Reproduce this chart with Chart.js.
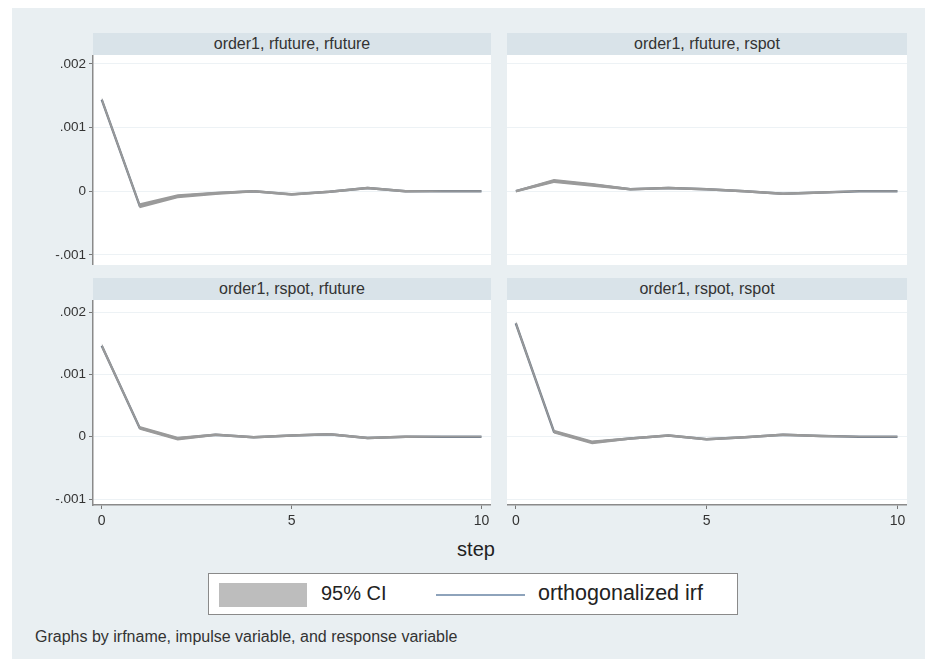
<!DOCTYPE html>
<html>
<head>
<meta charset="utf-8">
<script src="https://cdn.jsdelivr.net/npm/chart.js@4/dist/chart.umd.min.js"></script>
<style>
html,body{margin:0;padding:0;background:#fff;width:925px;height:659px;overflow:hidden;font-family:"Liberation Sans",Arial,Helvetica,sans-serif;}
#bg{position:absolute;left:12px;top:8px;width:913px;height:651px;background:#e9eff2;}
.hdr{position:absolute;background:#d9e3e9;color:#333;font-size:16px;text-align:center;height:22px;line-height:22px;white-space:nowrap;}
canvas{position:absolute;}
#steplbl{position:absolute;left:376px;width:200px;top:538px;text-align:center;font-size:20px;color:#222;}
#legend{position:absolute;left:208px;top:573px;width:528px;height:40px;background:#fff;border:1.5px solid #8a8a8a;}
#sw{position:absolute;left:10px;top:9px;width:88px;height:24px;background:#bdbdbd;}
#ci{position:absolute;left:112px;top:8px;font-size:20px;color:#222;}
#ln{position:absolute;left:227px;top:20px;width:89px;height:2px;background:#8ea3bb;}
#oi{position:absolute;left:329px;top:7px;font-size:21.5px;color:#222;}
#note{position:absolute;left:35px;top:628px;font-size:16px;color:#333;white-space:nowrap;}
</style>
</head>
<body>
<div id="bg"></div>
<div class="hdr" id="h1" style="left:93px;top:33px;width:398px;"></div>
<div class="hdr" id="h2" style="left:507px;top:33px;width:400px;"></div>
<div class="hdr" id="h3" style="left:93px;top:278px;width:398px;"></div>
<div class="hdr" id="h4" style="left:507px;top:278px;width:400px;"></div>
<canvas id="c1" width="461" height="210" style="left:30px;top:55px;"></canvas>
<canvas id="c2" width="400" height="210" style="left:507px;top:55px;"></canvas>
<canvas id="c3" width="461" height="235" style="left:30px;top:300px;"></canvas>
<canvas id="c4" width="400" height="235" style="left:507px;top:300px;"></canvas>
<div id="steplbl">step</div>
<div id="legend"><div id="sw"></div><div id="ci"></div><div id="ln"></div><div id="oi"></div></div>
<div id="note"></div>
<script>
// ---------- data ----------
const panelTitles = ["order1, rfuture, rfuture", "order1, rfuture, rspot", "order1, rspot, rfuture", "order1, rspot, rspot"];
const steps = [0, 1, 2, 3, 4, 5, 6, 7, 8, 9, 10];

const irfFutFut  = [0.00144, -0.00023, -0.00008, -0.00003, 0.00000, -0.00005, -0.00001, 0.00005, 0.00000, 0.00000, 0.00000];
const loFutFut   = [0.00140, -0.00027, -0.00011, -0.00006, -0.00002, -0.00007, -0.00003, 0.00003, -0.00002, -0.00001, -0.00001];
const hiFutFut   = [0.00148, -0.00019, -0.00005, -0.00001, 0.00002, -0.00003, 0.00001, 0.00007, 0.00002, 0.00001, 0.00001];

const irfFutSpot = [0.00000, 0.00016, 0.00010, 0.00003, 0.00005, 0.00003, 0.00000, -0.00004, -0.00002, 0.00000, 0.00000];
const loFutSpot  = [-0.00002, 0.00013, 0.00007, 0.00001, 0.00003, 0.00001, -0.00002, -0.00006, -0.00004, -0.00001, -0.00001];
const hiFutSpot  = [0.00002, 0.00019, 0.00013, 0.00005, 0.00007, 0.00005, 0.00002, -0.00002, 0.00000, 0.00001, 0.00001];

const irfSpotFut = [0.00146, 0.00014, -0.00003, 0.00003, -0.00001, 0.00002, 0.00004, -0.00002, 0.00000, 0.00000, 0.00000];
const loSpotFut  = [0.00142, 0.00011, -0.00006, 0.00001, -0.00003, 0.00000, 0.00002, -0.00004, -0.00002, -0.00001, -0.00001];
const hiSpotFut  = [0.00150, 0.00017, 0.00000, 0.00005, 0.00001, 0.00004, 0.00006, 0.00000, 0.00002, 0.00001, 0.00001];

const irfSpotSpot = [0.00182, 0.00008, -0.00009, -0.00003, 0.00002, -0.00004, -0.00001, 0.00003, 0.00001, 0.00000, 0.00000];
const loSpotSpot  = [0.00178, 0.00005, -0.00012, -0.00005, 0.00000, -0.00006, -0.00003, 0.00001, -0.00001, -0.00001, -0.00001];
const hiSpotSpot  = [0.00186, 0.00011, -0.00006, -0.00001, 0.00004, -0.00002, 0.00001, 0.00005, 0.00003, 0.00001, 0.00001];

const yTicks = [-0.001, 0, 0.001, 0.002];
const yTickLabels = ["-.001", "0", ".001", ".002"];
const xTicks = [0, 5, 10];
const xTickLabels = ["0", "5", "10"];

const legendLabels = ["95% CI", "orthogonalized irf"];
const xTitle = "step";
const note = "Graphs by irfname, impulse variable, and response variable";

// ---------- text ----------
["h1","h2","h3","h4"].forEach((id, i) => document.getElementById(id).textContent = panelTitles[i]);
document.getElementById("ci").textContent = legendLabels[0];
document.getElementById("oi").textContent = legendLabels[1];
document.getElementById("steplbl").textContent = xTitle;
document.getElementById("note").textContent = note;

// ---------- charts ----------
const FONT = "'Liberation Sans', Arial, Helvetica, sans-serif";
const plotBg = {
  id: "plotBg",
  beforeDraw(c) {
    const a = c.chartArea, ctx = c.ctx;
    ctx.save();
    ctx.fillStyle = "#ffffff";
    ctx.fillRect(a.left, a.top, a.right - a.left, a.bottom - a.top);
    ctx.restore();
  }
};

function pts(arr) { return steps.map((s, i) => ({ x: s, y: arr[i] })); }

function makePanel(id, irf, lo, hi, showY, showX, yMin, yMax) {
  new Chart(document.getElementById(id), {
    type: "line",
    data: {
      datasets: [
        { data: pts(lo), borderWidth: 0, pointRadius: 0, fill: false, borderColor: "rgba(0,0,0,0)" },
        { data: pts(hi), borderWidth: 0, pointRadius: 0, fill: "-1", backgroundColor: "#9a9a9a", borderColor: "rgba(0,0,0,0)" },
        { data: pts(irf), borderWidth: 2.4, pointRadius: 0, fill: false, borderColor: "#727e8c" }
      ]
    },
    options: {
      responsive: false,
      animation: false,
      events: [],
      layout: { padding: 0 },
      plugins: { legend: { display: false }, tooltip: { enabled: false } },
      scales: {
        x: {
          type: "linear", min: -0.23, max: 10.25, display: showX,
          afterBuildTicks: s => { s.ticks = xTicks.map(v => ({ value: v })); },
          ticks: { callback: (v, i) => xTickLabels[i], font: { size: 14, family: FONT }, color: "#333", padding: 4, maxRotation: 0, autoSkip: false },
          grid: { drawOnChartArea: false, drawTicks: true, tickLength: 4, tickColor: "#777" },
          border: { display: true, color: "#8a8a8a", width: 1.5 },
          afterFit: s => { s.height = showX ? 30 : 0; s.paddingLeft = 0; s.paddingRight = 0; }
        },
        y: {
          type: "linear", min: yMin, max: yMax,
          afterBuildTicks: s => { s.ticks = yTicks.map(v => ({ value: v })); },
          ticks: { display: showY, callback: (v, i) => yTickLabels[i], font: { size: 13.5, family: FONT }, color: "#333", padding: 3 },
          grid: { color: "#edf2f5", lineWidth: 1, drawTicks: showY, tickLength: 4, tickColor: "#777" },
          border: { display: showY, color: "#8a8a8a", width: 1.5 },
          afterFit: s => { s.width = showY ? 63 : 0; s.paddingTop = 0; s.paddingBottom = 0; }
        }
      }
    },
    plugins: [plotBg]
  });
}

makePanel("c1", irfFutFut, loFutFut, hiFutFut, true, false, -0.00116, 0.00214);
makePanel("c2", irfFutSpot, loFutSpot, hiFutSpot, false, false, -0.00116, 0.00214);
makePanel("c3", irfSpotFut, loSpotFut, hiSpotFut, true, true, -0.001096, 0.002193);
makePanel("c4", irfSpotSpot, loSpotSpot, hiSpotSpot, false, true, -0.001096, 0.002193);
</script>
</body>
</html>
